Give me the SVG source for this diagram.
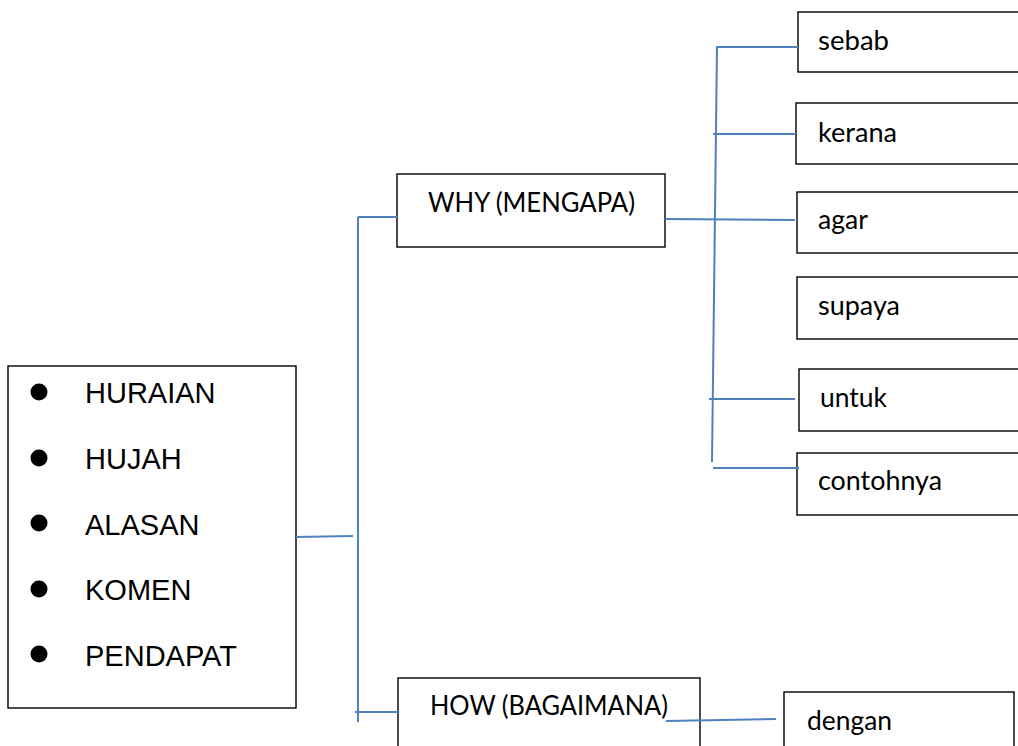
<svg xmlns="http://www.w3.org/2000/svg" width="1018" height="746" viewBox="0 0 1018 746">
<style>
.box{fill:#fff;stroke:#000;stroke-width:1.4}
.c{stroke:#4f81bd;stroke-width:2;fill:none;stroke-linecap:butt}
.a{font-family:"Liberation Sans",Arial,sans-serif;font-size:29px;fill:#000}
.k{font-family:Lato,"Open Sans",sans-serif;font-size:27px;fill:#000}
</style>
<rect width="1018" height="746" fill="#fff"/>
<g id="main">
<rect class="box" x="8" y="366" width="288" height="342"/>
<circle cx="39" cy="392" r="8.5"/>
<circle cx="39" cy="458" r="8.5"/>
<circle cx="39" cy="523" r="8.5"/>
<circle cx="39" cy="589" r="8.5"/>
<circle cx="39" cy="654" r="8.5"/>
<text class="a" x="85" y="403">HURAIAN</text>
<text class="a" x="85" y="469">HUJAH</text>
<text class="a" x="85" y="535">ALASAN</text>
<text class="a" x="85" y="600">KOMEN</text>
<text class="a" x="85" y="666">PENDAPAT</text>
</g>
<g id="why">
<rect class="box" x="397" y="174" width="268" height="73"/>
<text class="k" x="428" y="212" textLength="207" lengthAdjust="spacingAndGlyphs">WHY (MENGAPA)</text>
</g>
<g id="how">
<rect class="box" x="398" y="678" width="302" height="90"/>
<text class="k" x="430" y="715" textLength="238" lengthAdjust="spacingAndGlyphs">HOW (BAGAIMANA)</text>
</g>
<g id="sebab">
<rect class="box" x="798" y="12" width="240" height="60"/>
<text class="k" x="818" y="50" textLength="71" lengthAdjust="spacingAndGlyphs">sebab</text>
</g>
<g id="kerana">
<rect class="box" x="796" y="103" width="240" height="61"/>
<text class="k" x="818" y="142" textLength="79" lengthAdjust="spacingAndGlyphs">kerana</text>
</g>
<g id="agar">
<rect class="box" x="797" y="192" width="240" height="61"/>
<text class="k" x="818" y="229" textLength="50" lengthAdjust="spacingAndGlyphs">agar</text>
</g>
<g id="supaya">
<rect class="box" x="797" y="277" width="240" height="62"/>
<text class="k" x="818" y="315" textLength="82" lengthAdjust="spacingAndGlyphs">supaya</text>
</g>
<g id="untuk">
<rect class="box" x="799" y="369" width="240" height="62"/>
<text class="k" x="820" y="407" textLength="67" lengthAdjust="spacingAndGlyphs">untuk</text>
</g>
<g id="contohnya">
<rect class="box" x="797" y="453" width="240" height="62"/>
<text class="k" x="818" y="490" textLength="124" lengthAdjust="spacingAndGlyphs">contohnya</text>
</g>
<g id="dengan">
<rect class="box" x="784" y="692" width="230" height="80"/>
<text class="k" x="807" y="730" textLength="85" lengthAdjust="spacingAndGlyphs">dengan</text>
</g>
<g id="connectors">
<line class="c" x1="296" y1="537" x2="353" y2="536"/>
<line class="c" x1="358" y1="217" x2="358" y2="722"/>
<line class="c" x1="358" y1="217" x2="397" y2="217"/>
<line class="c" x1="355" y1="712" x2="398" y2="712"/>
<line class="c" x1="665" y1="219" x2="795" y2="220"/>
<line class="c" x1="717" y1="46" x2="712" y2="462"/>
<line class="c" x1="717" y1="47" x2="798" y2="47"/>
<line class="c" x1="713" y1="134" x2="796" y2="134"/>
<line class="c" x1="709" y1="399" x2="795" y2="399"/>
<line class="c" x1="713" y1="468" x2="799" y2="468"/>
<line class="c" x1="666" y1="721" x2="776" y2="719"/>
</g>
</svg>
